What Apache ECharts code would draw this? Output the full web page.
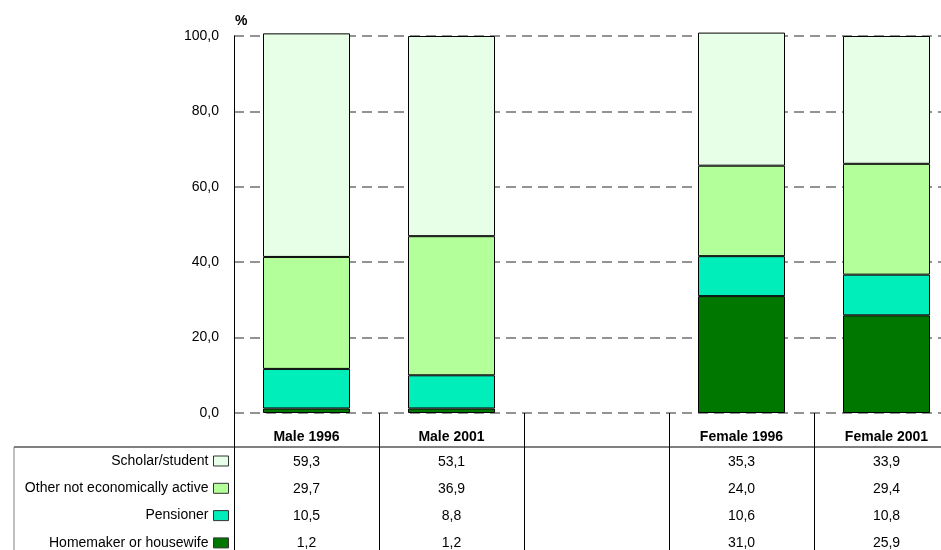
<!DOCTYPE html>
<html>
<head>
    <meta charset="utf-8">
    <script src="https://cdn.jsdelivr.net/npm/echarts@6/dist/echarts.min.js"></script>
    <style>
        body { margin: 0; background: #fff; }
    </style>
</head>
<body>
    <div id="main" style="width: 941px;height:550px;"></div>
    <script type="text/javascript">
        // data
        var categories = ['Male 1996', 'Male 2001', '', 'Female 1996', 'Female 2001'];
        var scholar = [59.3, 53.1, null, 35.3, 33.9];
        var otherInactive = [29.7, 36.9, null, 24.0, 29.4];
        var pensioner = [10.5, 8.8, null, 10.6, 10.8];
        var homemaker = [1.2, 1.2, null, 31.0, 25.9];
        var yTicks = [0, 20, 40, 60, 80, 100];

        var names = ['Scholar/student', 'Other not economically active', 'Pensioner', 'Homemaker or housewife'];
        var colors = ['#e6ffe6', '#b3ff99', '#00eeb9', '#007800'];
        var rows = [scholar, otherInactive, pensioner, homemaker];

        var fmt = function (v) {
            return v.toFixed(1).replace('.', ',');
        };

        var myChart = echarts.init(document.getElementById('main'));

        // stacking goes bottom -> top, so build series in reverse
        var series = [];
        for (var i = rows.length - 1; i >= 0; i--) {
            series.push({
                name: names[i],
                type: 'bar',
                stack: 'total',
                barWidth: '60%',
                clip: false,
                data: rows[i].map(function (v) { return v === null ? '-' : v; }),
                itemStyle: {
                    color: colors[i],
                    borderColor: '#000',
                    borderWidth: 1
                }
            });
        }

        var option = {
            animation: false,
            textStyle: { fontFamily: 'Liberation Sans' },
            // last column runs off the right edge of the picture
            grid: { left: 234, top: 36, bottom: 137, width: 725, containLabel: false, outerBoundsMode: 'none' },
            legend: {
                data: names,
                orient: 'vertical',
                right: 712,
                top: 454,
                height: 140,
                padding: 0,
                align: 'right',
                icon: 'rect',
                itemWidth: 15,
                itemHeight: 10,
                itemGap: 13.3,
                selectedMode: false,
                itemStyle: { borderColor: '#333', borderWidth: 1 },
                textStyle: { fontSize: 14, color: '#000', lineHeight: 14 }
            },
            xAxis: {
                type: 'category',
                data: categories,
                axisLine: { show: false },
                axisTick: {
                    show: true,
                    interval: 0,
                    length: 140,
                    lineStyle: { color: '#000', width: 1 }
                },
                axisLabel: {
                    interval: 0,
                    margin: 12,
                    formatter: function (value, idx) {
                        if (!value) return '';
                        var s = '{h|' + value + '}';
                        rows.forEach(function (r) {
                            s += '\n{v|' + fmt(r[idx]) + '}';
                        });
                        return s;
                    },
                    rich: {
                        h: { fontSize: 14, fontWeight: 'bold', color: '#000', lineHeight: 24 },
                        v: { fontSize: 14, color: '#000', lineHeight: 27 }
                    }
                }
            },
            yAxis: {
                type: 'value',
                min: 0,
                max: 100,
                interval: 20,
                name: '%',
                nameLocation: 'end',
                nameGap: 8,
                nameTextStyle: { fontSize: 14, fontWeight: 'bold', color: '#000', align: 'left', padding: [0, 0, 0, 1] },
                axisLine: { show: true, lineStyle: { color: '#000', width: 1 } },
                axisTick: { show: false },
                axisLabel: {
                    margin: 15,
                    fontSize: 14,
                    color: '#000',
                    formatter: function (v) { return yTicks.indexOf(v) >= 0 ? fmt(v) : ''; }
                },
                splitLine: {
                    show: true,
                    lineStyle: { color: '#707070', type: [10, 6], width: 1.5 }
                }
            },
            graphic: [
                { type: 'line', shape: { x1: 14, y1: 447, x2: 941, y2: 447 }, style: { stroke: '#808080', lineWidth: 2 } },
                { type: 'line', shape: { x1: 14, y1: 447, x2: 14, y2: 550 }, style: { stroke: '#808080', lineWidth: 1 } }
            ],
            series: series
        };

        myChart.setOption(option);
    </script>
</body>
</html>
